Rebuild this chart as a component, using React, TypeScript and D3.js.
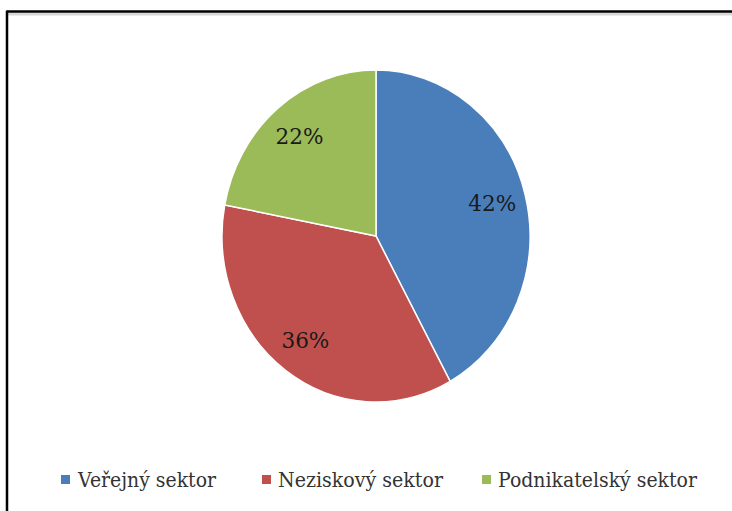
import React from "react";
import * as d3 from "d3";

const categories = ["Veřejný sektor", "Neziskový sektor", "Podnikatelský sektor"];
const values = [42, 36, 22];
const labels = ["42%", "36%", "22%"];
const colors = ["#4a7ebb", "#c0504d", "#9bbb59"];

const W = 732;
const H = 511;
const cx = 376;
const cy = 236;
const rx = 154;
const ry = 166;
const SERIF = "'DejaVu Serif', 'Liberation Serif', serif";

export default function App() {
  const pie = d3.pie<number>().sort(null).value((d) => d);
  const arcs = pie(values);
  const arc = d3.arc<d3.PieArcDatum<number>>().innerRadius(0).outerRadius(rx);
  const labelArc = d3.arc<d3.PieArcDatum<number>>().innerRadius(rx * 0.78).outerRadius(rx * 0.78);
  const sy = ry / rx;

  const legendX = [61, 262, 482];
  const legendTextX = [78, 278, 498];
  const legendW = [138, 165, 199];

  return (
    <svg width={W} height={H} style={{ position: "absolute", left: 0, top: 0, background: "#fff" }}>
      <rect x={0} y={0} width={W} height={H} fill="#fff" />
      <line x1={7} y1={12} x2={W} y2={12} stroke="#d8d8d8" strokeWidth={3} transform="translate(0,2)" />
      <line x1={7} y1={11.5} x2={W} y2={11.5} stroke="#000" strokeWidth={2.5} />
      <line x1={7} y1={10.5} x2={7} y2={H} stroke="#000" strokeWidth={2.5} />
      <g transform={`translate(${cx},${cy}) scale(1,${sy})`}>
        {arcs.map((a, i) => (
          <path
            key={i}
            d={arc(a) || ""}
            fill={colors[i]}
            stroke="#fff"
            strokeWidth={1.5}
            vectorEffect="non-scaling-stroke"
          />
        ))}
      </g>
      {arcs.map((a, i) => {
        const [lx, ly] = labelArc.centroid(a);
        return (
          <text
            key={i}
            x={cx + lx}
            y={cy + ly * sy}
            textAnchor="middle"
            dominantBaseline="central"
            fontFamily={SERIF}
            fontSize={22}
            fill="#1a1a1a"
            textLength={48}
            lengthAdjust="spacingAndGlyphs"
          >
            {labels[i]}
          </text>
        );
      })}
      {categories.map((c, i) => (
        <g key={c}>
          <rect x={legendX[i]} y={475} width={9} height={9} fill={colors[i]} />
          <text
            x={legendTextX[i]}
            y={480}
            dominantBaseline="central"
            fontFamily={SERIF}
            fontSize={21}
            fill="#333"
            textLength={legendW[i]}
            lengthAdjust="spacingAndGlyphs"
          >
            {c}
          </text>
        </g>
      ))}
    </svg>
  );
}
